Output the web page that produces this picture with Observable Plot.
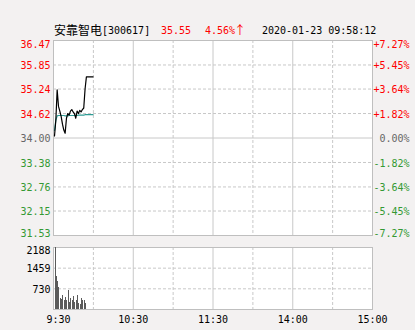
<!DOCTYPE html>
<html><head><meta charset="utf-8">
<script src="https://cdn.jsdelivr.net/npm/d3@7"></script>
<script src="https://cdn.jsdelivr.net/npm/@observablehq/plot@0.6"></script>
<style>
html,body{margin:0;padding:0;background:#f3f1f1;}
#wrap{position:relative;width:415px;height:330px;background:#f3f1f1;overflow:hidden;}
#wrap svg{position:absolute;left:0;}
.h{position:absolute;white-space:nowrap;font-family:"DejaVu Sans Mono",monospace;font-size:10px;line-height:10px;top:26px;}
.cn{font-family:"Noto Sans CJK SC",sans-serif;font-size:12px;line-height:12px;top:24px;}
</style></head>
<body><div id="wrap"></div>
<script>
// ---- header ----
const stockName = "安靠智电";
const stockCode = "[300617]";
const lastPrice = "35.55";
const changePct = "4.56%";
const arrow = "↑";
const stamp = "2020-01-23 09:58:12";

// ---- price axis ----
const priceTicks = [36.47, 35.85, 35.24, 34.62, 34.00, 33.38, 32.76, 32.15, 31.53];
const priceLabels = ["36.47","35.85","35.24","34.62","34.00","33.38","32.76","32.15","31.53"];
const pctLabels = ["+7.27%","+5.45%","+3.64%","+1.82%","0.00%","-1.82%","-3.64%","-5.45%","-7.27%"];
const prevClose = 34.00;

// ---- time axis (minutes of trading session) ----
const timeTicks = [0, 60, 120, 180, 240];
const timeLabels = ["9:30","10:30","11:30","14:00","15:00"];
const dashedX = [30, 90, 150, 210];
const solidX = [60, 120, 180];

// ---- minute series ----
const minutes = [0,1,2,3,4,5,6,7,8,9,10,11,12,13,14,15,16,17,18,19,20,21,22,23,24,25,26,27,28,29];
const prices = [34.05,34.45,35.22,34.80,34.68,34.55,34.35,34.20,34.12,34.50,34.62,34.58,34.68,34.72,34.66,34.62,34.50,34.68,34.62,34.70,34.66,34.72,34.76,35.24,35.55,35.55,35.55,35.55,35.55,35.55];
const avgPrices = [34.19,34.45,34.56,34.57,34.57,34.57,34.57,34.57,34.56,34.56,34.56,34.57,34.57,34.57,34.57,34.57,34.57,34.57,34.58,34.58,34.58,34.58,34.58,34.59,34.59,34.59,34.59,34.59,34.59,34.59];
const volMinutes = [0,1,2,3,4,5,6,7,8,9,10,11,12,13,14,15,16,17,18,19,20,21,22,23];
const volumes = [2188,1150,980,790,380,360,500,300,420,330,680,260,380,320,450,250,330,490,200,170,400,330,300,220];

// ---- volume axis ----
const volTicks = [2188, 1459, 730];
const volMax = 2188;

const RED = "#ff0000", GREEN = "#339933", GRAY = "#666666";
const GRID = "#c8c8c8", BORDER = "#bfbfbf";
const colorFor = v => v > prevClose + 1e-9 ? RED : (v < prevClose - 1e-9 ? GREEN : GRAY);

const priceData = minutes.map((t, i) => ({t, price: prices[i], avg: avgPrices[i]}));
const volData = volMinutes.map((t, i) => ({t, v: volumes[i]}));
const tickRows = priceTicks.map((v, i) => ({v, label: priceLabels[i], pct: pctLabels[i], color: colorFor(v)}));
const midRows = tickRows.slice(1, -1);
const fontStyle = {fontFamily: "DejaVu Sans Mono, monospace", fontSize: 10};

const wrap = document.getElementById("wrap");

// header
function addSpan(cls, text, left, color) {
  const s = document.createElement("span");
  s.className = cls;
  s.textContent = text;
  s.style.left = left + "px";
  if (color) s.style.color = color;
  wrap.appendChild(s);
}
addSpan("h cn", stockName, 54);
addSpan("h", stockCode, 102);
addSpan("h", lastPrice, 161, RED);
addSpan("h", changePct, 205, RED);
addSpan("h cn", arrow, 234, RED);
addSpan("h", stamp, 262);

const priceText = (rows, opts) => [
  Plot.text(rows, {y: "v", text: "label", fill: "color", frameAnchor: "left", textAnchor: "end", dx: -3, ...fontStyle, ...opts}),
  Plot.text(rows, {y: "v", text: "pct", fill: "color", frameAnchor: "right", textAnchor: "end", dx: 37, ...fontStyle, ...opts})
];

const pricePlot = Plot.plot({
  width: 415, height: 240,
  marginTop: 40, marginBottom: 5, marginLeft: 53, marginRight: 43,
  x: {domain: [0, 240], axis: null},
  y: {domain: [31.53, 36.47], axis: null},
  style: {background: "transparent", overflow: "visible"},
  marks: [
    Plot.frame({fill: "white", stroke: "none"}),
    Plot.ruleY(priceTicks.filter(v => v !== prevClose), {stroke: GRID, strokeDasharray: "3,2"}),
    Plot.ruleY([prevClose], {stroke: GRID}),
    Plot.ruleX(dashedX, {stroke: GRID, strokeDasharray: "3,2"}),
    Plot.ruleX(solidX, {stroke: GRID}),
    Plot.frame({stroke: BORDER}),
    Plot.line(priceData, {x: "t", y: "avg", stroke: "#2e9b94", strokeWidth: 1.2, dx: 1}),
    Plot.line(priceData, {x: "t", y: "price", stroke: "#000", strokeWidth: 1.2, dx: 1}),
    ...priceText(midRows, {lineAnchor: "middle", dy: 1}),
    ...priceText([tickRows[0]], {lineAnchor: "top", dy: 0}),
    ...priceText([tickRows[tickRows.length - 1]], {lineAnchor: "bottom", dy: 1})
  ]
});
pricePlot.style.top = "0px";
wrap.appendChild(pricePlot);

const volRows = volTicks.map(v => ({v}));
const volPlot = Plot.plot({
  width: 415, height: 90,
  marginTop: 7, marginBottom: 21, marginLeft: 53, marginRight: 43,
  x: {domain: [0, 240], axis: null},
  y: {domain: [0, volMax], axis: null},
  style: {background: "transparent", overflow: "visible"},
  marks: [
    Plot.frame({fill: "white", stroke: "none"}),
    Plot.ruleY(volTicks.slice(1), {stroke: GRID, strokeDasharray: "3,2"}),
    Plot.ruleX(dashedX, {stroke: GRID, strokeDasharray: "3,2"}),
    Plot.ruleX(solidX, {stroke: GRID}),
    Plot.frame({stroke: BORDER}),
    Plot.ruleX(volData, {x: "t", y1: 0, y2: "v", stroke: "#5a5a5a", strokeWidth: 1, shapeRendering: "crispEdges", dx: 1.5}),
    Plot.text(volRows.slice(0, 1), {y: "v", text: d => String(d.v), frameAnchor: "left", textAnchor: "end", dx: -3, lineAnchor: "top", dy: -1, fill: "#000", ...fontStyle}),
    Plot.text(volRows.slice(1), {y: "v", text: d => String(d.v), frameAnchor: "left", textAnchor: "end", dx: -3, lineAnchor: "middle", dy: 1, fill: "#000", ...fontStyle}),
    Plot.text(timeTicks.slice(0, 1), {x: d => d, text: () => timeLabels[0], frameAnchor: "bottom", lineAnchor: "middle", dy: 10, dx: 5, fill: "#000", ...fontStyle}),
    Plot.text(timeTicks.slice(1), {x: d => d, text: (d, i) => timeLabels[i + 1], frameAnchor: "bottom", lineAnchor: "middle", dy: 10, fill: "#000", ...fontStyle})
  ]
});
volPlot.style.top = "240px";
wrap.appendChild(volPlot);
</script>
</body></html>
